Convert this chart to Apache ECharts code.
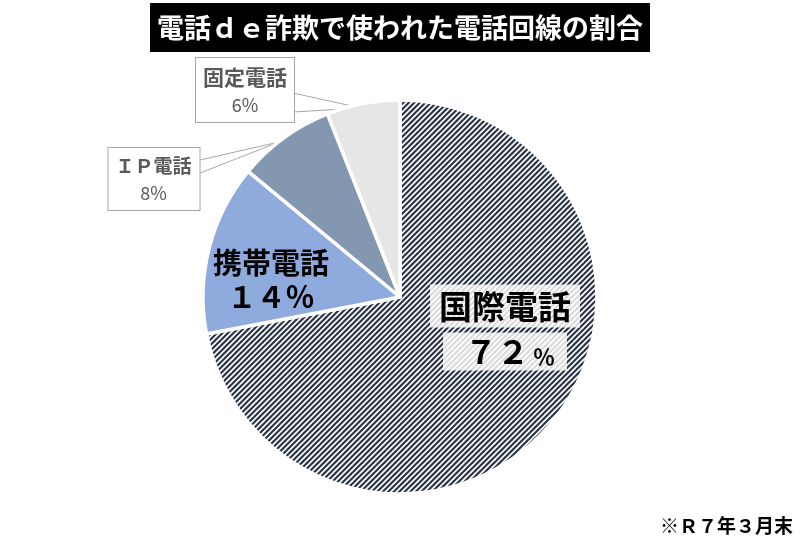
<!DOCTYPE html>
<html><head><meta charset="utf-8">
<script src="https://cdn.jsdelivr.net/npm/echarts@6/dist/echarts.min.js"></script>
<style>html,body{margin:0;padding:0;background:#fff}#c{width:800px;height:549px}</style>
</head><body><div id="c"></div>
<script>
const categories = ['国際電話', '携帯電話', 'ＩＰ電話', '固定電話'];
const shares = [72, 14, 8, 6];
const titleText = '電話ｄｅ詐欺で使われた電話回線の割合';
const noteText = '※Ｒ７年３月末';

const FONT = '"Noto Sans CJK JP", "Noto Sans", sans-serif';

function hatchPattern() {
  const s = 11, c = document.createElement('canvas');
  c.width = s; c.height = s;
  const g = c.getContext('2d');
  g.fillStyle = '#ffffff'; g.fillRect(0, 0, s, s);
  g.strokeStyle = '#2a3546'; g.lineWidth = 2.2;
  for (let k = -3; k <= 7; k++) {
    const d = k * s / 2;
    g.beginPath(); g.moveTo(-s, d + s); g.lineTo(2 * s, d - 2 * s); g.stroke();
  }
  return { image: c, repeat: 'repeat' };
}
function fw(str) {
  return String(str).replace(/[0-9%]/g, ch => String.fromCharCode(ch.charCodeAt(0) + 0xFEE0));
}

const fills = [hatchPattern(), '#8faadc', '#8497b0', '#e7e6e6'];

const labelStyles = [
  {
    position: 'inside',
    formatter: p => `{n|${p.name}}\n{d|${fw(p.value)}}{p|％}`,
    rich: {
      n: { fontFamily: FONT, fontSize: 33, fontWeight: 'bold', color: '#000', backgroundColor: 'rgba(255,255,255,0.82)', height: 33, padding: [5, 9, 5, 9], lineHeight: 53 },
      d: { fontFamily: FONT, fontSize: 32, fontWeight: 'bold', color: '#000', backgroundColor: 'rgba(255,255,255,0.82)', height: 34, padding: [2, 2, 2, 22], lineHeight: 38 },
      p: { fontFamily: FONT, fontSize: 22, fontWeight: 'bold', color: '#000', backgroundColor: 'rgba(255,255,255,0.82)', height: 20, padding: [14, 12, 4, 2], lineHeight: 38 }
    }
  },
  {
    position: 'inside',
    formatter: p => `{n|${p.name}}\n{v|${fw(p.value)}％}`,
    rich: {
      n: { fontFamily: FONT, fontSize: 29, fontWeight: 'bold', color: '#000', lineHeight: 34 },
      v: { fontFamily: FONT, fontSize: 29, fontWeight: 'bold', color: '#000', lineHeight: 34 }
    }
  },
  {
    position: 'outside',
    formatter: p => `{n|${p.name}}\n{v|${p.value}%}`,
    backgroundColor: '#fff', borderColor: '#a6a6a6', borderWidth: 1, padding: [4, 8, 4, 7],
    rich: {
      n: { fontFamily: FONT, fontSize: 19, fontWeight: 'bold', color: '#595959', lineHeight: 28 },
      v: { fontFamily: FONT, fontSize: 18, color: '#595959', lineHeight: 26 }
    }
  },
  {
    position: 'outside',
    formatter: p => `{n|${p.name}}\n{v|${p.value}%}`,
    backgroundColor: '#fff', borderColor: '#a6a6a6', borderWidth: 1, padding: [4, 7, 4, 7],
    rich: {
      n: { fontFamily: FONT, fontSize: 21, fontWeight: 'bold', color: '#595959', lineHeight: 30 },
      v: { fontFamily: FONT, fontSize: 18, color: '#595959', lineHeight: 26 }
    }
  }
];

const labelPlaces = [
  { x: 505, y: 325 },
  { x: 271, y: 280 },
  { x: 154, y: 179, line: [[200, 160], [279, 142], [200, 173]] },
  { x: 245, y: 90, line: [[293, 93], [361, 108], [293, 112]] }
];

const data = categories.map((name, i) => ({
  name, value: shares[i],
  itemStyle: { color: fills[i] },
  label: labelStyles[i],
  labelLine: { show: i >= 2, lineStyle: { color: '#a6a6a6', width: 1 } }
}));

const chart = echarts.init(document.getElementById('c'), null, { renderer: 'canvas' });
chart.setOption({
  animation: false,
  title: [
    {
      text: titleText, left: 'center', top: 3,
      backgroundColor: '#000', padding: [11, 7, 11, 7],
      textStyle: { color: '#fff', fontSize: 27, fontWeight: 'bold', fontFamily: FONT }
    },
    {
      text: noteText, right: 7, top: 516, padding: 0,
      textStyle: { color: '#000', fontSize: 19, fontWeight: 'bold', fontFamily: FONT }
    }
  ],
  series: [{
    type: 'pie',
    center: [400, 297],
    radius: [0, 197],
    startAngle: 90,
    clockwise: true,
    itemStyle: { borderColor: '#fff', borderWidth: 3.5 },
    emphasis: { disabled: true },
    data,
    labelLayout: function (params) {
      const pl = labelPlaces[params.dataIndex];
      const o = { x: pl.x, y: pl.y, align: 'center', verticalAlign: 'middle' };
      if (pl.line) o.labelLinePoints = pl.line;
      return o;
    }
  }]
});
</script>
</body></html>
